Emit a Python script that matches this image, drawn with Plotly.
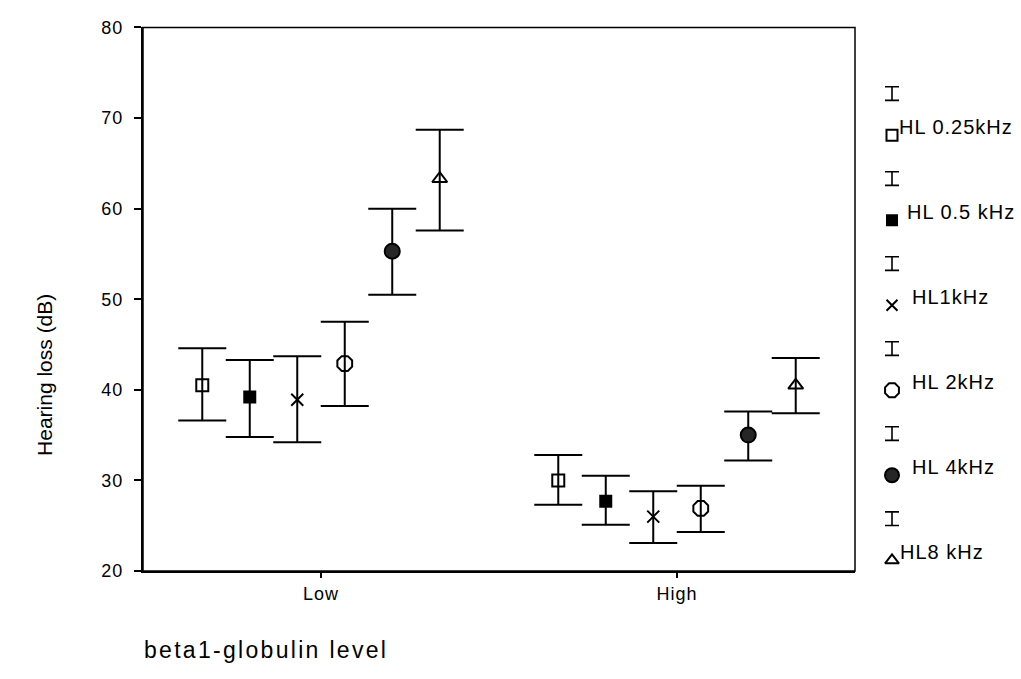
import plotly.graph_objects as go

# ---------------- data ----------------
categories = ["Low", "High"]
series_names = ["HL 0.25kHz", "HL 0.5 kHz", "HL1kHz", "HL 2kHz", "HL 4kHz", "HL8 kHz"]

# means per series: [Low, High]
mean_025 = [40.5, 30.0]
mean_05 = [39.2, 27.7]
mean_1k = [38.9, 26.0]
mean_2k = [42.9, 26.9]
mean_4k = [55.3, 35.0]
mean_8k = [63.3, 40.5]

# upper CI limits
upper_025 = [44.6, 32.8]
upper_05 = [43.3, 30.5]
upper_1k = [43.7, 28.8]
upper_2k = [47.5, 29.4]
upper_4k = [60.0, 37.6]
upper_8k = [68.7, 43.5]

# lower CI limits
lower_025 = [36.6, 27.3]
lower_05 = [34.8, 25.1]
lower_1k = [34.2, 23.1]
lower_2k = [38.2, 24.3]
lower_4k = [50.5, 32.2]
lower_8k = [57.6, 37.4]

y_ticks = [20, 30, 40, 50, 60, 70, 80]

means = [mean_025, mean_05, mean_1k, mean_2k, mean_4k, mean_8k]
uppers = [upper_025, upper_05, upper_1k, upper_2k, upper_4k, upper_8k]
lowers = [lower_025, lower_05, lower_1k, lower_2k, lower_4k, lower_8k]

# ---------------- styles / layout ----------------
W, H = 1021, 679


def px_x(p):
    return p / W


def px_y(p):
    return 1 - p / H


FONT = "Liberation Sans, Arial, sans-serif"
INK = "#000000"
symbols = ["square-open", "square", "x-thin-open", "octagon-open", "circle", "triangle-up-open"]
sizes = [12, 11, 12, 16, 15, 13]
colors = [INK, INK, INK, INK, "#262626", INK]
group_step = 0.1334
label_xshift = [5, 13, 18, 18, 18, 6]

fig = go.Figure()

for k, name in enumerate(series_names):
    xs = [i + (k - 2.5) * group_step for i in range(len(categories))]
    m = means[k]
    up = [u - v for u, v in zip(uppers[k], m)]
    dn = [v - l for v, l in zip(m, lowers[k])]
    fig.add_trace(go.Scatter(
        x=xs, y=m, mode="markers", name=name,
        marker=dict(symbol=symbols[k], size=sizes[k], color=colors[k],
                    line=dict(color=INK, width=2)),
        error_y=dict(type="data", symmetric=False, array=up, arrayminus=dn,
                     color=INK, thickness=2, width=24),
        xaxis="x", yaxis="y", showlegend=False,
    ))

# legend keys drawn on an auxiliary axis pair
for k, name in enumerate(series_names):
    fig.add_trace(go.Scatter(
        x=[0], y=[k - 0.49], mode="markers",
        marker=dict(size=1, color="rgba(0,0,0,0)"),
        error_y=dict(type="constant", value=0.08, color=INK, thickness=1.6, width=7),
        xaxis="x2", yaxis="y2", showlegend=False, hoverinfo="skip",
    ))
    fig.add_trace(go.Scatter(
        x=[0], y=[k], mode="markers",
        marker=dict(symbol=symbols[k], size=sizes[k] - 1, color=colors[k],
                    line=dict(color=INK, width=2)),
        xaxis="x2", yaxis="y2", showlegend=False, hoverinfo="skip",
    ))
    fig.add_annotation(
        x=0, y=k, xref="x2", yref="y2", text=name, showarrow=False,
        xanchor="left", yanchor="middle", align="left",
        xshift=label_xshift[k], yshift=8,
        font=dict(family=FONT, size=20, color=INK),
    )

fig.update_layout(
    width=W, height=H,
    margin=dict(l=0, r=0, t=0, b=0),
    paper_bgcolor="white", plot_bgcolor="white",
    font=dict(family=FONT, size=18, color=INK),
    xaxis=dict(
        domain=[px_x(143), px_x(855)], range=[-0.5, 1.5],
        tickvals=list(range(len(categories))), ticktext=categories,
        showgrid=False, zeroline=False,
        showline=True, linecolor=INK, linewidth=2,
        ticks="outside", ticklen=5, tickwidth=2, tickcolor=INK,
        tickfont=dict(family=FONT, size=18, color=INK),
        anchor="y",
    ),
    yaxis=dict(
        domain=[px_y(578), px_y(18)], range=[20, 80],
        tickvals=y_ticks,
        showgrid=False, zeroline=False,
        showline=True, linecolor=INK, linewidth=2,
        ticks="outside", ticklen=7, tickwidth=2, tickcolor=INK,
        ticklabelstandoff=7,
        tickfont=dict(family=FONT, size=18, color=INK),
        anchor="x",
    ),
    xaxis2=dict(domain=[px_x(860), 1.0], range=[-32, 129], visible=False, anchor="y2"),
    yaxis2=dict(domain=[0, 1], range=[(H - 129) / 87.6, (0 - 129) / 87.6],
                visible=False, anchor="x2"),
    shapes=[dict(type="rect", xref="x domain", yref="y domain",
                 x0=0, x1=1, y0=0, y1=1, line=dict(color=INK, width=1.5))],
)

fig.add_annotation(
    x=px_x(142), y=px_y(659), xref="paper", yref="paper",
    text="beta1-globulin level", showarrow=False,
    xanchor="left", yanchor="middle", align="left",
    font=dict(family=FONT, size=23, color=INK),
)
fig.add_annotation(
    x=px_x(45), y=px_y(376), xref="paper", yref="paper",
    text="Hearing loss (dB)", showarrow=False, textangle=-90,
    xanchor="center", yanchor="middle",
    font=dict(family=FONT, size=21, color=INK),
)

# page without default body margin, and the wide letter spacing of the original
post_js = """
document.documentElement.style.margin = '0';
document.documentElement.style.overflow = 'hidden';
document.body.style.margin = '0';
document.body.style.overflow = 'hidden';
var gd = document.querySelector('.plotly-graph-div');
gd.querySelectorAll('.xtick text, .ytick text').forEach(function(t){t.style.letterSpacing='1px';});
gd.querySelectorAll('.annotation-text').forEach(function(t){
  var s = t.textContent;
  if (s.indexOf('beta1') === 0) { t.style.letterSpacing = '2.3px'; }
  else if (s.indexOf('HL') === 0) { t.style.letterSpacing = '1px'; }
});
"""

fig.write_html("out.html", post_script=post_js, config={"displayModeBar": False})
